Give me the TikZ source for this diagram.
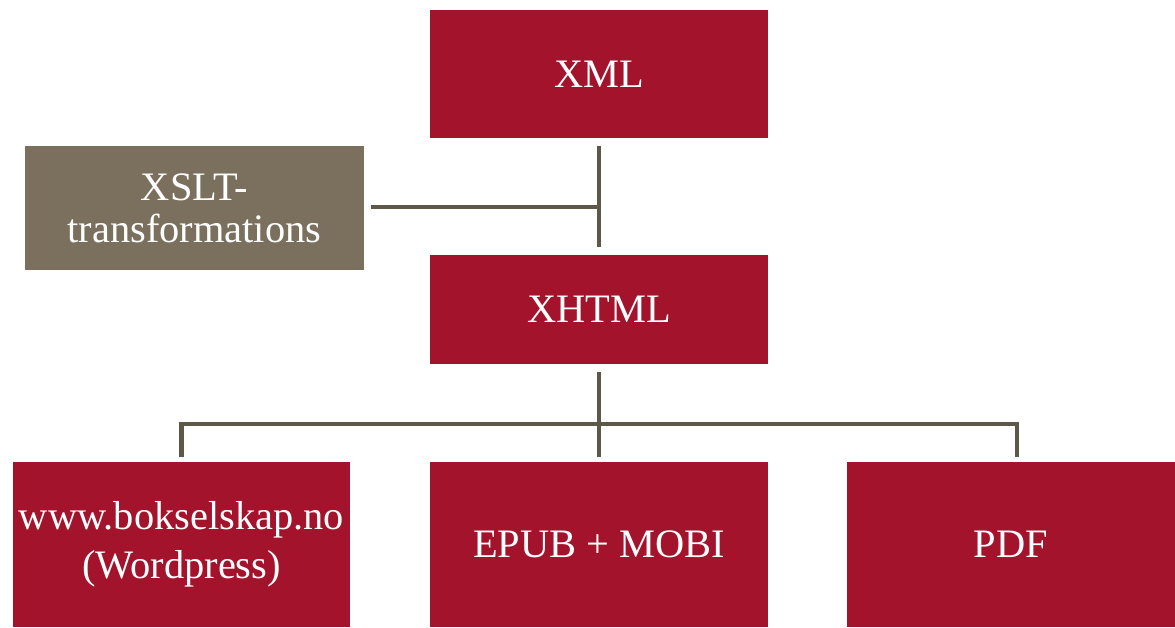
\documentclass[tikz,border=0pt]{standalone}
\usepackage{fontspec}
\setmainfont{Liberation Serif}
\definecolor{boxred}{RGB}{163,19,43}
\definecolor{boxgrey}{RGB}{123,112,94}
\definecolor{linegrey}{RGB}{94,88,74}
\begin{document}
\begin{tikzpicture}[x=0.02cm,y=-0.02cm,
        every node/.style={inner sep=0pt, outer sep=0pt, text=white, align=center,
            font=\fontsize{23}{24}\selectfont},
        redbox/.style={fill=boxred, minimum width=6.76cm},
        greybox/.style={fill=boxgrey, minimum width=6.78cm, minimum height=2.48cm},
        link/.style={draw=linegrey, line width=2.8pt}]
        \useasboundingbox[fill=white] (0,0) rectangle (1175,627);
        % boxes
        \node[redbox, minimum height=2.56cm] (xml) at (599,74) {XML};
        \node[greybox] (xslt) at (194.5,208) {XSLT-\\transformations};
        \node[redbox, minimum height=2.18cm] (xhtml) at (599,309.5) {XHTML};
        \node[redbox, minimum height=3.3cm, font=\fontsize{23}{28}\selectfont] (web) at (181.5,544.5) {www.bokselskap.no\\(Wordpress)};
        \node[redbox, minimum height=3.3cm] (epub) at (599,544.5) {EPUB + MOBI};
        \node[redbox, minimum height=3.3cm, minimum width=6.56cm] (pdf) at (1011,544.5) {PDF};
        % connectors
        \coordinate (join) at (599,207);
        \coordinate (split) at (599,424);
        \coordinate (pdfdrop) at (1017,457);
        \draw[link] ([yshift=-0.16cm]xml.south) -- ([yshift=0.16cm]xhtml.north);
        \draw[link] ([xshift=0.14cm]xslt.east |- join) -- (join);
        \draw[link] ([yshift=-0.16cm]xhtml.south) -- ([yshift=0.1cm]epub.north);
        \draw[link] ([yshift=0.1cm]web.north) -- (web.north |- split) -- (pdfdrop |- split)
            -- (pdfdrop);
    \end{tikzpicture}
\end{document}
